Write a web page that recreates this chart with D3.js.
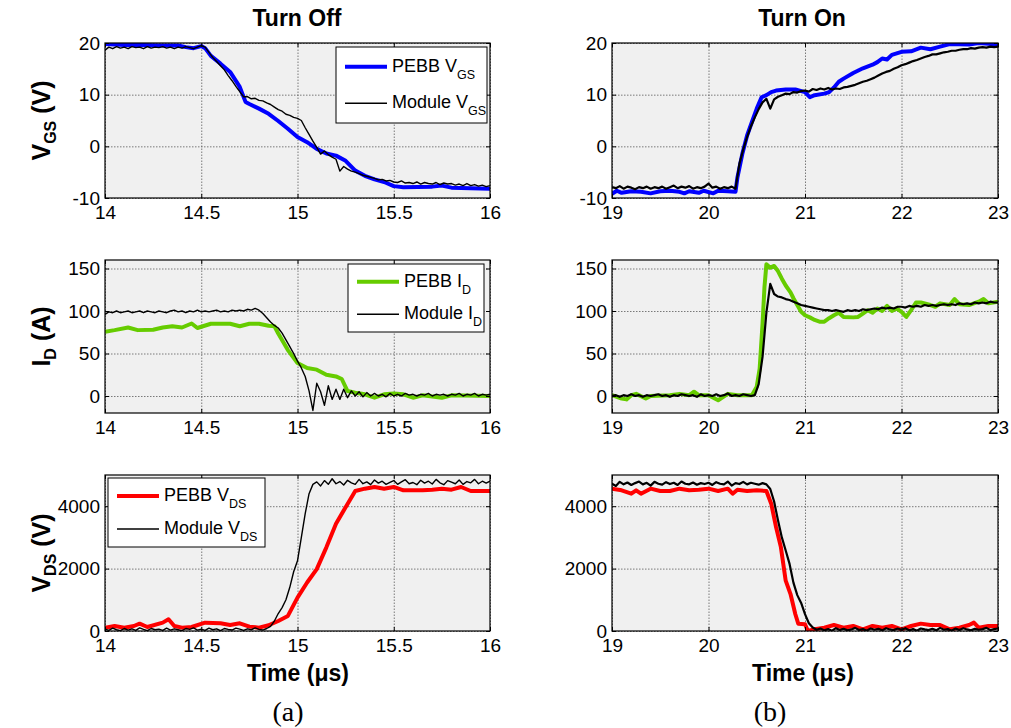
<!DOCTYPE html>
<html>
<head>
<meta charset="utf-8">
<script src="https://cdn.jsdelivr.net/npm/d3@7"></script>
<style>
  body { margin: 0; background: #fff; }
  text { font-family: Arial, "Liberation Sans", sans-serif; fill: #000; }
</style>
</head>
<body>
<svg id="chart" width="1011" height="728"></svg>
<script>
// ---- data ----
const offTicks = [14, 14.5, 15, 15.5, 16];
const onTicks = [19, 20, 21, 22, 23];
const vgsTicks = [-10, 0, 10, 20];
const idTicks = [0, 50, 100, 150];
const vdsTicks = [0, 2000, 4000];

// simulated (PEBB) traces: [time us, value]
const offVgsPebb = [[14.0,19.8],[14.1,19.6],[14.2,19.6],[14.3,19.5],[14.38,19.5],[14.42,19.2],[14.46,19.0],[14.5,19.4],[14.52,19.0],[14.55,17.5],[14.6,16.0],[14.65,14.4],[14.7,11.5],[14.73,8.6],[14.75,8.2],[14.8,7.3],[14.85,6.3],[14.9,4.9],[14.95,3.4],[15.0,1.8],[15.05,0.8],[15.1,-0.5],[15.15,-1.4],[15.2,-1.8],[15.25,-2.8],[15.3,-4.7],[15.35,-5.7],[15.4,-6.4],[15.45,-6.9],[15.5,-7.7],[15.55,-7.9],[15.7,-7.8],[15.75,-7.6],[15.8,-8.0],[16.0,-8.2]];
const onVgsPebb = [[19.0,-9.2],[19.05,-8.6],[19.1,-9.0],[19.2,-8.7],[19.3,-8.8],[19.4,-9.1],[19.5,-8.7],[19.6,-8.6],[19.7,-8.8],[19.75,-9.1],[19.8,-8.7],[19.9,-9.0],[19.95,-8.6],[20.05,-9.1],[20.1,-8.6],[20.2,-8.7],[20.28,-8.8],[20.3,-6.0],[20.35,-1.5],[20.4,2.1],[20.45,4.7],[20.5,7.3],[20.55,9.5],[20.6,9.9],[20.65,10.5],[20.7,10.8],[20.8,11.0],[20.9,11.0],[21.0,10.5],[21.05,9.5],[21.1,9.9],[21.2,10.2],[21.25,10.5],[21.3,11.4],[21.35,12.5],[21.4,13.1],[21.5,14.2],[21.6,15.1],[21.7,15.8],[21.75,16.3],[21.8,17.0],[21.85,16.8],[21.9,17.7],[22.0,18.3],[22.1,18.4],[22.2,19.1],[22.3,18.8],[22.4,19.3],[22.5,19.8],[22.7,19.7],[22.8,20.0],[23.0,19.7]];
const offIdPebb = [[14.0,75.6],[14.05,77.5],[14.12,80.6],[14.17,77.5],[14.25,78],[14.3,80.6],[14.35,82],[14.4,80.6],[14.45,85.3],[14.48,80],[14.55,85],[14.65,85],[14.7,82],[14.75,85],[14.8,85],[14.85,82.6],[14.88,82],[14.9,73.6],[14.95,54],[15.0,38.8],[15.05,33],[15.1,31],[15.15,25],[15.2,23],[15.23,20],[15.26,5.8],[15.3,3.9],[15.35,2],[15.4,-2],[15.45,2],[15.5,3],[15.55,2],[15.6,-2],[15.65,0.8],[15.75,-2],[15.8,0.8],[16.0,0]];
const onIdPebb = [[19.0,1],[19.1,-3],[19.15,-4],[19.2,1],[19.25,2.5],[19.35,-3],[19.4,0],[19.6,1],[19.7,2.5],[19.8,1],[19.85,5],[19.9,1],[20.0,1],[20.1,-5],[20.2,2.5],[20.3,1],[20.45,1],[20.5,11],[20.53,32],[20.56,85],[20.58,128],[20.6,155],[20.64,151],[20.68,153],[20.72,147],[20.76,138],[20.8,130],[20.85,122],[20.88,115],[20.92,107],[20.96,99],[21.0,95],[21.05,92.5],[21.1,89.5],[21.15,87.5],[21.2,87.5],[21.25,91.5],[21.3,95],[21.35,98],[21.4,93],[21.5,92.5],[21.55,93],[21.6,97],[21.65,101],[21.7,98],[21.75,103],[21.8,100],[21.85,106],[21.9,100],[21.95,103],[22.0,99],[22.05,93],[22.1,101],[22.15,110],[22.2,110],[22.3,107],[22.35,105],[22.4,109],[22.5,107],[22.55,114],[22.6,108],[22.7,107],[22.8,111],[22.85,114],[22.9,109],[23.0,111]];
const offVdsPebb = [[14.0,107],[14.05,160],[14.1,107],[14.15,160],[14.18,236],[14.22,129],[14.3,268],[14.33,375],[14.36,160],[14.4,107],[14.45,129],[14.52,268],[14.6,246],[14.65,193],[14.7,246],[14.75,140],[14.8,107],[14.85,183],[14.9,322],[14.95,483],[15.0,1072],[15.05,1555],[15.1,1985],[15.15,2682],[15.2,3434],[15.25,3970],[15.3,4487],[15.35,4562],[15.4,4616],[15.45,4562],[15.5,4616],[15.55,4509],[15.65,4509],[15.7,4530],[15.75,4562],[15.8,4530],[15.85,4616],[15.9,4487],[16.0,4487]];
const onVdsPebb = [[19.0,4562],[19.1,4509],[19.2,4400],[19.25,4509],[19.3,4400],[19.4,4562],[19.5,4487],[19.6,4487],[19.7,4562],[19.8,4509],[19.9,4530],[20.0,4562],[20.1,4487],[20.2,4562],[20.25,4400],[20.3,4530],[20.4,4487],[20.5,4509],[20.6,4487],[20.65,4080],[20.7,3333],[20.75,2688],[20.8,1613],[20.85,1183],[20.9,538],[20.93,236],[21.0,215],[21.03,0],[21.1,54],[21.2,107],[21.3,193],[21.4,107],[21.5,160],[21.6,54],[21.7,160],[21.8,107],[21.9,160],[22.0,54],[22.1,160],[22.2,236],[22.3,193],[22.4,193],[22.5,54],[22.6,107],[22.7,193],[22.75,268],[22.8,107],[22.9,160],[23.0,160]];

// measured (module) traces, sampled every 0.02 us from 14 us (turn off) / every 0.04 us from 19 us (turn on)
const offVgsModule = [
  18.6,19.2,18.9,19.3,19.0,19.2,18.9,19.3,19.1,19.2,18.9,19.3,19.0,19.2,19.1,19.3,19.0,19.2,18.9,19.2,19.0,19.3,19.1,18.9,19.2,
  19.5,19.2,18.2,17.2,16.4,15.6,14.8,13.7,12.7,11.6,10.6,9.6,9.6,9.2,9.3,8.9,8.8,8.4,8.1,7.6,7.1,6.8,6.2,6.0,5.6,
  5.4,5.0,3.6,2.3,1.0,-0.2,-1.5,-0.9,-1.6,-2.1,-2.5,-4.8,-3.9,-4.4,-4.8,-5.0,-5.3,-5.6,-5.8,-6.0,-6.2,-6.5,-6.4,-6.7,-6.6,
  -6.9,-7.0,-6.7,-7.1,-7.0,-7.2,-6.9,-7.3,-7.0,-7.2,-7.3,-7.0,-7.4,-7.1,-7.3,-7.2,-7.5,-7.3,-7.6,-7.2,-7.6,-7.4,-7.7,-7.5,-7.8,
  -7.6];
const offIdModule = [
  96,99,98,100,98,99,100,98,99,100,98,100,99,98,100,99,98,100,101,99,100,98,100,99,101,
  99,100,99,100,101,99,100,99,101,100,101,100,102,101,103,101,97,92,87,83,80,74,66,58,50,
  41,33,23,6,-17,15,5,-11,12,-4,8,-4,8,-2,6,0,5,-1,4,0,3,0,2,-1,3,
  0,2,0,3,1,2,0,2,1,3,0,2,1,2,0,2,1,3,0,2,1,3,0,2,1,
  2];
const offVdsModule = [
  60,20,90,40,10,80,30,70,20,100,50,10,80,40,60,20,90,30,70,40,10,80,50,100,30,
  60,20,90,40,70,10,80,50,30,90,60,20,70,40,100,50,30,80,150,320,560,750,1000,1400,1900,
  2250,3000,3760,4400,4700,4780,4650,4820,4700,4880,4720,4790,4680,4830,4750,4700,4860,4720,4780,4690,4840,4740,4800,4700,4760,
  4820,4700,4780,4850,4720,4760,4690,4830,4740,4800,4710,4860,4750,4690,4820,4770,4720,4840,4700,4790,4750,4860,4720,4800,4740,
  4800];
const onVgsModule = [
  -7.9,-8.1,-7.7,-8.2,-7.8,-8.0,-8.3,-7.9,-8.1,-7.8,-8.2,-7.9,-8.1,-7.8,-8.2,-7.9,-7.6,-8.1,-7.8,-8.0,-7.7,-8.2,-7.9,-8.1,-7.8,
  -7.2,-8.0,-7.8,-8.2,-7.9,-8.1,-7.8,-8.2,-3.4,-0.6,1.8,3.9,5.6,7.2,8.5,9.2,7.3,9.1,9.6,9.9,10.2,10.1,10.5,10.4,10.7,
  10.8,10.6,11.1,10.9,11.2,11.0,11.3,11.0,11.2,11.1,11.4,11.5,11.7,11.9,12.2,12.5,12.7,13.0,13.3,13.7,14.1,14.4,14.6,15.0,15.3,
  15.7,15.9,16.2,16.5,16.7,17.0,17.3,17.5,17.8,17.8,18.0,18.2,18.3,18.5,18.5,18.7,18.8,18.8,19.0,18.9,19.1,19.2,19.1,19.3,19.2,
  19.3];
const onIdModule = [
  0,1,-1,1,0,2,0,1,-1,1,0,1,2,0,1,-1,1,0,2,1,0,1,-1,2,0,
  1,0,2,0,1,3,0,1,0,2,1,0,1,14,46,98,132,120,117,116,114,113,111,109,107,
  106,105,104,103,102,101,101,100,101,100,99,101,100,101,100,102,101,102,103,102,104,103,104,103,105,
  105,104,106,105,106,105,107,106,107,106,107,108,107,108,107,109,108,109,108,110,109,110,109,111,110,
  110];
const onVdsModule = [
  4720,4650,4780,4700,4760,4680,4740,4790,4700,4750,4660,4780,4720,4690,4770,4710,4750,4680,4790,4720,4700,4760,4690,4740,4710,
  4750,4680,4770,4720,4700,4790,4660,4740,4710,4780,4700,4750,4720,4690,4740,4700,4550,4150,3550,3000,2580,2150,1550,1150,900,
  540,250,110,40,80,20,60,10,90,30,70,20,50,100,30,60,10,80,40,70,20,90,50,30,80,
  40,90,20,60,10,80,50,30,70,20,100,40,60,10,80,30,90,50,20,70,40,60,100,30,60,
  80];

const sampled = (start, step, vals) => vals.map((v, i) => [start + i * step, v]);

// ---- layout ----
const svg = d3.select("#chart");
const cols = [{ left: 105, right: 490 }, { left: 612, right: 998 }];
const rows = [{ top: 43, bottom: 198 }, { top: 260, bottom: 413 }, { top: 475, bottom: 631 }];
const BLUE = "#0000ff", GREEN = "#66cc00", RED = "#ff0000";

const panels = [
  { c: 0, r: 0, xd: [14, 16], xt: offTicks, yd: [-10, 20], yt: vgsTicks, pebb: offVgsPebb, mod: sampled(14, 0.02, offVgsModule), color: BLUE, mw: 1.4,
    legend: { right: 3, top: 4, w: 151, h: 76, sub: "GS", name: "V" } },
  { c: 1, r: 0, xd: [19, 23], xt: onTicks, yd: [-10, 20], yt: vgsTicks, pebb: onVgsPebb, mod: sampled(19, 0.04, onVgsModule), color: BLUE, mw: 2.2 },
  { c: 0, r: 1, xd: [14, 16], xt: offTicks, yd: [-20, 160], yt: idTicks, pebb: offIdPebb, mod: sampled(14, 0.02, offIdModule), color: GREEN, mw: 1.4,
    legend: { right: 6, top: 4, w: 136, h: 68, sub: "D", name: "I" } },
  { c: 1, r: 1, xd: [19, 23], xt: onTicks, yd: [-20, 160], yt: idTicks, pebb: onIdPebb, mod: sampled(19, 0.04, onIdModule), color: GREEN, mw: 2.2 },
  { c: 0, r: 2, xd: [14, 16], xt: offTicks, yd: [0, 5000], yt: vdsTicks, pebb: offVdsPebb, mod: sampled(14, 0.02, offVdsModule), color: RED, mw: 1.4,
    legend: { left: 3, top: 3, w: 157, h: 69, sub: "DS", name: "V" } },
  { c: 1, r: 2, xd: [19, 23], xt: onTicks, yd: [0, 5000], yt: vdsTicks, pebb: onVdsPebb, mod: sampled(19, 0.04, onVdsModule), color: RED, mw: 2.2 }
];

const fmt = d => String(d);

panels.forEach((p, i) => {
  const L = cols[p.c].left, R = cols[p.c].right, T = rows[p.r].top, B = rows[p.r].bottom;
  const x = d3.scaleLinear().domain(p.xd).range([L, R]);
  const y = d3.scaleLinear().domain(p.yd).range([B, T]);

  svg.append("rect").attr("x", L).attr("y", T).attr("width", R - L).attr("height", B - T).attr("fill", "#f0f0f0");

  // grid
  const gx = svg.append("g").attr("transform", `translate(0,${B})`)
    .call(d3.axisBottom(x).tickValues(p.xt).tickSize(-(B - T)).tickFormat(""));
  const gy = svg.append("g").attr("transform", `translate(${L},0)`)
    .call(d3.axisLeft(y).tickValues(p.yt).tickSize(-(R - L)).tickFormat(""));
  [gx, gy].forEach(g => {
    g.select(".domain").remove();
    g.selectAll(".tick line").attr("stroke", "#5a5a5a").attr("stroke-width", 0.8).attr("stroke-dasharray", "1.5,1.5");
  });

  // traces
  const clipId = "clip" + i;
  svg.append("clipPath").attr("id", clipId).append("rect")
    .attr("x", L).attr("y", T).attr("width", R - L).attr("height", B - T);
  const line = d3.line().x(d => x(d[0])).y(d => y(d[1]));
  const plot = svg.append("g").attr("clip-path", `url(#${clipId})`);
  plot.append("path").datum(p.pebb).attr("fill", "none").attr("stroke", p.color)
    .attr("stroke-width", 4).attr("stroke-linejoin", "round").attr("d", line);
  plot.append("path").datum(p.mod).attr("fill", "none").attr("stroke", "#000")
    .attr("stroke-width", p.mw).attr("stroke-linejoin", "round").attr("d", line);

  // box ticks on all four sides, pointing in
  const ab = svg.append("g").attr("transform", `translate(0,${B})`)
    .call(d3.axisBottom(x).tickValues(p.xt).tickSize(-4).tickPadding(8).tickFormat(fmt));
  const al = svg.append("g").attr("transform", `translate(${L},0)`)
    .call(d3.axisLeft(y).tickValues(p.yt).tickSize(-4).tickPadding(5).tickFormat(fmt));
  const at = svg.append("g").attr("transform", `translate(0,${T})`)
    .call(d3.axisTop(x).tickValues(p.xt).tickSize(-4).tickFormat(""));
  const ar = svg.append("g").attr("transform", `translate(${R},0)`)
    .call(d3.axisRight(y).tickValues(p.yt).tickSize(-4).tickFormat(""));
  [ab, al, at, ar].forEach(g => {
    g.select(".domain").remove();
    g.selectAll(".tick line").attr("stroke", "#000");
    g.selectAll("text").attr("font-size", 19).attr("font-family", "Arial, 'Liberation Sans', sans-serif").attr("fill", "#000");
  });
  svg.append("rect").attr("x", L).attr("y", T).attr("width", R - L).attr("height", B - T)
    .attr("fill", "none").attr("stroke", "#000").attr("stroke-width", 1.2);

  // legend
  if (p.legend) {
    const lg = p.legend;
    const lx = lg.left !== undefined ? L + lg.left : R - lg.right - lg.w;
    const ly = T + lg.top;
    const g = svg.append("g").attr("transform", `translate(${lx},${ly})`);
    g.append("rect").attr("width", lg.w).attr("height", lg.h).attr("fill", "#fff").attr("stroke", "#000").attr("stroke-width", 1);
    const entries = [{ label: "PEBB ", color: p.color, w: 4 }, { label: "Module ", color: "#000", w: 1.6 }];
    const rowY = [lg.h * 0.26, lg.h * 0.74];
    entries.forEach((e, k) => {
      g.append("line").attr("x1", 9).attr("x2", 51).attr("y1", rowY[k]).attr("y2", rowY[k])
        .attr("stroke", e.color).attr("stroke-width", e.w);
      const t = g.append("text").attr("x", 56).attr("y", rowY[k] + 5).attr("font-size", 18);
      t.append("tspan").text(e.label + lg.name);
      t.append("tspan").attr("dy", 7).attr("font-size", 12.5).text(lg.sub);
    });
  }
});

// y axis labels (left column only)
const yLabels = [["V", "GS", " (V)"], ["I", "D", " (A)"], ["V", "DS", " (V)"]];
yLabels.forEach((lab, r) => {
  const cy = (rows[r].top + rows[r].bottom) / 2;
  const t = svg.append("text").attr("transform", `translate(50,${cy}) rotate(-90)`)
    .attr("text-anchor", "middle").attr("font-weight", "bold").attr("font-size", 25);
  t.append("tspan").text(lab[0]);
  t.append("tspan").attr("dy", 6).attr("font-size", 16).text(lab[1]);
  t.append("tspan").attr("dy", -6).text(lab[2]);
});

// titles and captions
const titles = ["Turn Off", "Turn On"];
const titleX = [297, 802];
titles.forEach((s, c) => {
  svg.append("text").attr("x", titleX[c]).attr("y", 26).attr("text-anchor", "middle")
    .attr("font-weight", "bold").attr("font-size", 23).text(s);
  svg.append("text").attr("x", titleX[c] + 1).attr("y", 681).attr("text-anchor", "middle")
    .attr("font-weight", "bold").attr("font-size", 23).text("Time (\u03bcs)");
});
const captions = ["(a)", "(b)"];
const capX = [288, 770];
captions.forEach((s, c) => {
  svg.append("text").attr("x", capX[c]).attr("y", 721).attr("text-anchor", "middle")
    .style("font-family", "'Liberation Serif', 'Times New Roman', serif")
    .attr("font-size", 28).text(s);
});
</script>
</body>
</html>
